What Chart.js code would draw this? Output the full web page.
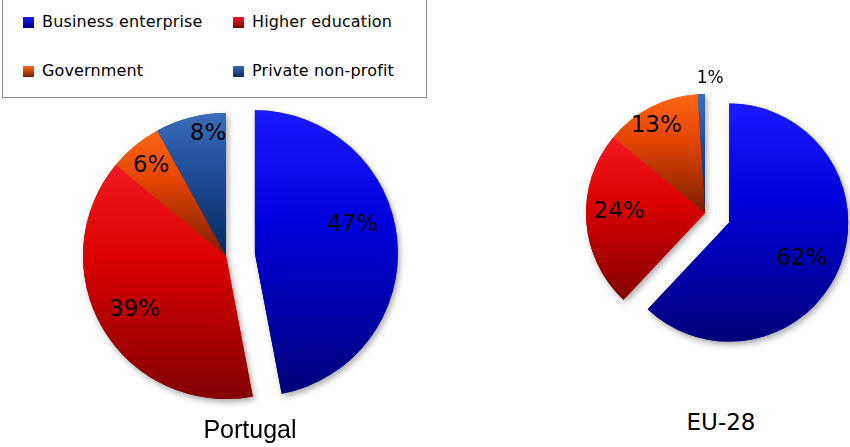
<!DOCTYPE html>
<html>
<head>
<meta charset="utf-8">
<script src="https://cdn.jsdelivr.net/npm/chart.js@4.4.1/dist/chart.umd.min.js"></script>
<style>
  body { margin: 0; background: #fff; width: 850px; height: 447px; position: relative; overflow: hidden; font-family: "DejaVu Sans", sans-serif; }
  .pie { position: absolute; }
  #legend { position: absolute; left: 2px; top: -2px; width: 425px; height: 100px; border: 1px solid #8a8a8a; box-sizing: border-box; }
  .item { position: absolute; font-size: 16px; line-height: 19px; color: #000; white-space: nowrap; letter-spacing: 0.15px; }
  .item i { display: inline-block; width: 11px; height: 11px; margin-right: 8px; vertical-align: -1px; }
  .caption { position: absolute; transform: translateX(-50%); white-space: nowrap; line-height: 1; color: #000; }
</style>
</head>
<body>
<div id="legend"></div>
<div class="pie" style="left:26px;top:96px"><canvas id="ptChart" width="400" height="320"></canvas></div>
<div class="pie" style="left:560px;top:68px"><canvas id="euChart" width="290" height="290"></canvas></div>
<div class="caption" id="cap0" style="left:250px;top:417px;font-family:'Liberation Sans',Arial,sans-serif;font-size:25px"></div>
<div class="caption" id="cap1" style="left:721px;top:411px;font-family:'DejaVu Sans',sans-serif;font-size:23px"></div>

<script>
// R&D expenditure by sector of performance, share (%)
const sectors = ['Business enterprise', 'Higher education', 'Government', 'Private non-profit'];
const regions = ['Portugal', 'EU-28'];
const portugalShares = [47, 39, 6, 8];
const eu28Shares = [62, 24, 13, 1];

// gradient colours (top -> middle -> bottom) for each sector
const topColors = ['#1a1aff', '#f21a22', '#ff6616', '#3b6db9'];
const midColors = ['#0000dc', '#dc0000', '#e24400', '#1f4d99'];
const bottomColors = ['#00007a', '#820000', '#7a1e00', '#082a5e'];

// legend, 2 x 2
const legend = document.getElementById('legend');
const legendX = [20, 230], legendY = [13, 62];
sectors.forEach((s, i) => {
    const d = document.createElement('div');
    d.className = 'item';
    d.style.left = legendX[i % 2] + 'px';
    d.style.top = legendY[Math.floor(i / 2)] + 'px';
    d.innerHTML = `<i style="background:linear-gradient(${topColors[i]},${bottomColors[i]})"></i>${s}`;
    legend.appendChild(d);
});
document.getElementById('cap0').textContent = regions[0];
document.getElementById('cap1').textContent = regions[1];

// gradient per slice, exploded slice, soft shadow and % labels
const pieDecor = {
    id: 'pieDecor',
    afterDatasetsUpdate(chart) {
        const ctx = chart.ctx;
        chart.getDatasetMeta(0).data.forEach((arc, i) => {
            let top = arc.y, bottom = arc.y;
            for (let k = 0; k <= 60; k++) {
                const a = arc.startAngle + (arc.endAngle - arc.startAngle) * k / 60;
                const y = arc.y + Math.sin(a) * arc.outerRadius;
                top = Math.min(top, y);
                bottom = Math.max(bottom, y);
            }
            const g = ctx.createLinearGradient(0, top, 0, bottom);
            g.addColorStop(0, topColors[i]);
            g.addColorStop(0.4, midColors[i]);
            g.addColorStop(1, bottomColors[i]);
            arc.options.backgroundColor = g;
        });
    },
    beforeDatasetDraw(chart, args, opts) {
        const ctx = chart.ctx;
        const arcs = args.meta.data;
        const values = chart.data.datasets[0].data;
        const shift = (arc, i) => {
            const mid = (arc.startAngle + arc.endAngle) / 2;
            return [Math.cos(mid) * opts.explode[i], Math.sin(mid) * opts.explode[i]];
        };
        // shadow pass, then the slices again on top
        ctx.save();
        ctx.shadowColor = 'rgba(0,0,0,0.35)';
        ctx.shadowBlur = 6;
        ctx.shadowOffsetX = 2;
        ctx.shadowOffsetY = 3;
        arcs.forEach((arc, i) => {
            const [dx, dy] = shift(arc, i);
            ctx.save(); ctx.translate(dx, dy); arc.draw(ctx); ctx.restore();
        });
        ctx.restore();
        arcs.forEach((arc, i) => {
            const [dx, dy] = shift(arc, i);
            ctx.save(); ctx.translate(dx, dy); arc.draw(ctx); ctx.restore();
        });
        // labels
        ctx.save();
        ctx.fillStyle = '#000';
        ctx.textAlign = 'center';
        ctx.textBaseline = 'middle';
        arcs.forEach((arc, i) => {
            const [dx, dy] = shift(arc, i);
            const a = (arc.startAngle + arc.endAngle) / 2 + opts.labelTurn[i] * Math.PI / 180;
            const r = arc.outerRadius * opts.labelDist[i];
            ctx.font = opts.labelSize[i] + 'px "DejaVu Sans"';
            ctx.fillText(values[i] + '%', arc.x + dx + Math.cos(a) * r, arc.y + dy + Math.sin(a) * r);
        });
        ctx.restore();
        return false;
    }
};

function makePie(id, values, radius, decor) {
    return new Chart(document.getElementById(id), {
        type: 'pie',
        data: {
            labels: sectors,
            datasets: [{
                data: values,
                backgroundColor: topColors.slice(),
                borderWidth: 0
            }]
        },
        options: {
            responsive: false,
            animation: false,
            events: [],
            radius: radius,
            layout: { padding: 0 },
            plugins: {
                legend: { display: false },
                tooltip: { enabled: false },
                pieDecor: decor
            }
        },
        plugins: [pieDecor]
    });
}

makePie('ptChart', portugalShares, 143, {
    explode: [29, 0, 0, 0],
    labelDist: [0.71, 0.74, 0.82, 0.86],
    labelTurn: [-11, 0, 0, 6],
    labelSize: [23, 23, 23, 23]
});
makePie('euChart', eu28Shares, 119, {
    explode: [26, 0, 0, 0],
    labelDist: [0.68, 0.72, 0.84, 1.13],
    labelTurn: [5, 4, -2, 4],
    labelSize: [23, 23, 23, 17]
});
</script>
</body>
</html>
